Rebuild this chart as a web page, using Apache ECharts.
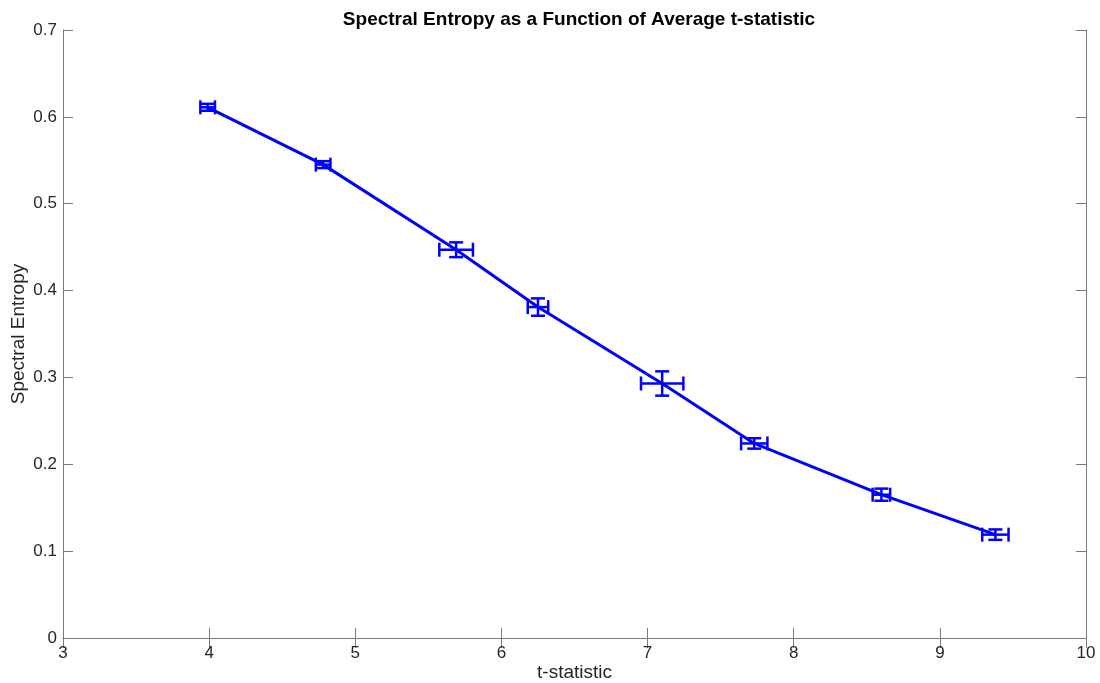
<!DOCTYPE html>
<html>
<head>
<meta charset="utf-8">
<script src="https://cdn.jsdelivr.net/npm/echarts@6/dist/echarts.min.js"></script>
<style>
  html, body { margin: 0; padding: 0; background: #fff; }
  #chart { width: 1100px; height: 683px; }
</style>
</head>
<body>
<div id="chart"></div>
<script>
// values
const tStat = [3.99, 4.78, 5.69, 6.25, 7.10, 7.73, 8.60, 9.38]
const entropy = [0.611, 0.545, 0.447, 0.381, 0.293, 0.224, 0.165, 0.119]
const tErr = [0.05, 0.05, 0.115, 0.07, 0.145, 0.09, 0.06, 0.09]
const entErr = [0.004, 0.004, 0.0085, 0.01, 0.014, 0.006, 0.007, 0.006]

const BLUE = '#0000ff'
const AXIS = '#7a7a7a'
const FONT = 'Liberation Sans, Arial, sans-serif'
const CAP = 7

const chart = echarts.init(document.getElementById('chart'))

// MATLAB-style error bars in both directions
const renderErr = (params, api) => {
  const x = api.value(0), y = api.value(1), ex = api.value(2), ey = api.value(3)
  const c = api.coord([x, y])
  const top = api.coord([x, y + ey])
  const bot = api.coord([x, y - ey])
  const lft = api.coord([x - ex, y])
  const rgt = api.coord([x + ex, y])
  const style = { stroke: BLUE, lineWidth: 2.5 }
  const seg = (x1, y1, x2, y2) => ({ type: 'line', shape: { x1, y1, x2, y2 }, style })
  return {
    type: 'group',
    children: [
      seg(c[0], top[1], c[0], bot[1]),
      seg(c[0] - CAP, top[1], c[0] + CAP, top[1]),
      seg(c[0] - CAP, bot[1], c[0] + CAP, bot[1]),
      seg(lft[0], c[1], rgt[0], c[1]),
      seg(lft[0], c[1] - CAP, lft[0], c[1] + CAP),
      seg(rgt[0], c[1] - CAP, rgt[0], c[1] + CAP),
    ]
  }
}

const tickLabel = { color: '#262626', fontSize: 17, fontFamily: FONT }
const nameStyle = { fontSize: 19, color: '#262626', fontFamily: FONT }
const boxAxis = {
  axisLine: { show: true, lineStyle: { color: AXIS, width: 1 } },
  axisTick: { show: true, inside: true, length: 10, lineStyle: { color: AXIS } },
  splitLine: { show: false }
}

chart.setOption({
  animation: false,
  title: {
    text: 'Spectral Entropy as a Function of Average t-statistic',
    left: 574, top: 5, textAlign: 'center',
    textStyle: { fontSize: 19, fontWeight: 'bold', color: '#000', fontFamily: FONT }
  },
  grid: { left: 63, right: 14, top: 30, bottom: 45, show: false, outerBoundsMode: 'none', containLabel: false },
  xAxis: [
    {
      type: 'value', min: 3, max: 10, interval: 1, position: 'bottom',
      name: 't-statistic', nameLocation: 'middle', nameGap: 25, nameMoveOverlap: false, nameTextStyle: nameStyle,
      ...boxAxis,
      axisLabel: { ...tickLabel, margin: 7 }
    },
    {
      type: 'value', min: 3, max: 10, interval: 1, position: 'top',
      ...boxAxis,
      axisLabel: { show: false }
    }
  ],
  yAxis: [
    {
      type: 'value', min: 0, max: 0.7, interval: 0.1, position: 'left',
      name: 'Spectral Entropy', nameLocation: 'middle', nameGap: 35, nameMoveOverlap: false, nameRotate: 90, nameTextStyle: nameStyle,
      ...boxAxis,
      axisLabel: { ...tickLabel, margin: 6, formatter: v => v === 0 ? '0' : v.toFixed(1) }
    },
    {
      type: 'value', min: 0, max: 0.7, interval: 0.1, position: 'right',
      ...boxAxis,
      axisLabel: { show: false }
    }
  ],
  series: [
    {
      type: 'line',
      data: tStat.map((t, i) => [t, entropy[i]]),
      symbol: 'none',
      lineStyle: { color: BLUE, width: 3 },
      z: 2
    },
    {
      type: 'custom',
      data: tStat.map((t, i) => [t, entropy[i], tErr[i], entErr[i]]),
      renderItem: renderErr,
      z: 3
    }
  ]
})
</script>
</body>
</html>
